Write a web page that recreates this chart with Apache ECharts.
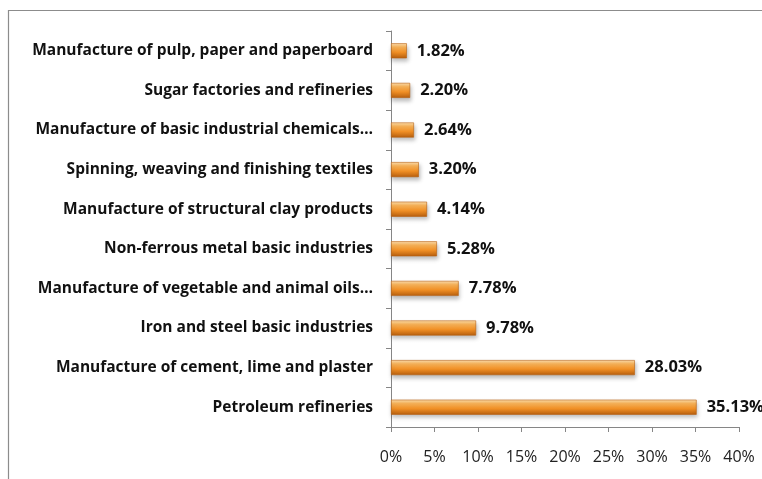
<!DOCTYPE html>
<html>
<head>
<meta charset="utf-8">
<style>
  html, body { margin: 0; padding: 0; background: #ffffff; }
  #chart { width: 762px; height: 479px; }
</style>
<script src="https://cdn.jsdelivr.net/npm/echarts@6/dist/echarts.min.js"></script>
</head>
<body>
<div id="chart"></div>
<script>
// Industry categories, listed bottom to top as drawn on the category axis
const industries = [
  "Petroleum refineries",
  "Manufacture of cement, lime and plaster",
  "Iron and steel basic industries",
  "Manufacture of vegetable and animal oils…",
  "Non-ferrous metal basic industries",
  "Manufacture of structural clay products",
  "Spinning, weaving and finishing textiles",
  "Manufacture of basic industrial chemicals…",
  "Sugar factories and refineries",
  "Manufacture of pulp, paper and paperboard"
];

// Share of each industry, in percent
const shares = [35.13, 28.03, 9.78, 7.78, 5.28, 4.14, 3.20, 2.64, 2.20, 1.82];

// Value axis range and step, in percent
const axisMin = 0;
const axisMax = 40;
const axisStep = 5;

const chart = echarts.init(document.getElementById('chart'), null, { renderer: 'canvas' });

const barGradient = new echarts.graphic.LinearGradient(0, 0, 0, 1, [
  { offset: 0, color: '#fde0b0' },
  { offset: 0.25, color: '#f9b45a' },
  { offset: 0.6, color: '#f08f25' },
  { offset: 1, color: '#b65e0e' }
]);

chart.setOption({
  animation: false,
  backgroundColor: '#ffffff',
  textStyle: { fontFamily: 'Open Sans, Liberation Sans, sans-serif' },
  graphic: [{
    type: 'rect',
    shape: { x: 8.5, y: 10.5, width: 800, height: 500 },
    style: { fill: 'none', stroke: '#8c8c8c', lineWidth: 1.2 },
    silent: true,
    z: -10
  }],
  grid: { left: 391, right: 23, top: 31, bottom: 52, containLabel: false },
  xAxis: {
    type: 'value',
    min: axisMin,
    max: axisMax,
    interval: axisStep,
    axisLine: { show: true, lineStyle: { color: '#868686', width: 1 } },
    axisTick: { show: true, length: 5, lineStyle: { color: '#868686' } },
    axisLabel: {
      margin: 22,
      color: '#222222',
      fontSize: 16,
      fontFamily: 'Open Sans, sans-serif',
      formatter: v => v + '%'
    },
    splitLine: { show: false }
  },
  yAxis: {
    type: 'category',
    data: industries,
    axisLine: { show: true, lineStyle: { color: '#868686', width: 1 } },
    axisTick: { show: true, length: 5, lineStyle: { color: '#868686' } },
    axisLabel: {
      margin: 18,
      color: '#111111',
      fontSize: 15.5,
      fontWeight: 'bold',
      fontFamily: 'Open Sans, sans-serif'
    }
  },
  series: [{
    type: 'bar',
    data: shares,
    barCategoryGap: '62%',
    itemStyle: {
      color: barGradient,
      borderColor: '#b8600f',
      borderWidth: 0.6,
      shadowColor: 'rgba(0,0,0,0.25)',
      shadowBlur: 4,
      shadowOffsetX: 1,
      shadowOffsetY: 3
    },
    label: {
      show: true,
      position: 'right',
      distance: 10,
      color: '#111111',
      fontSize: 16.5,
      fontWeight: 'bold',
      fontFamily: 'Open Sans, sans-serif',
      formatter: p => p.value.toFixed(2) + '%'
    }
  }]
});
</script>
</body>
</html>
